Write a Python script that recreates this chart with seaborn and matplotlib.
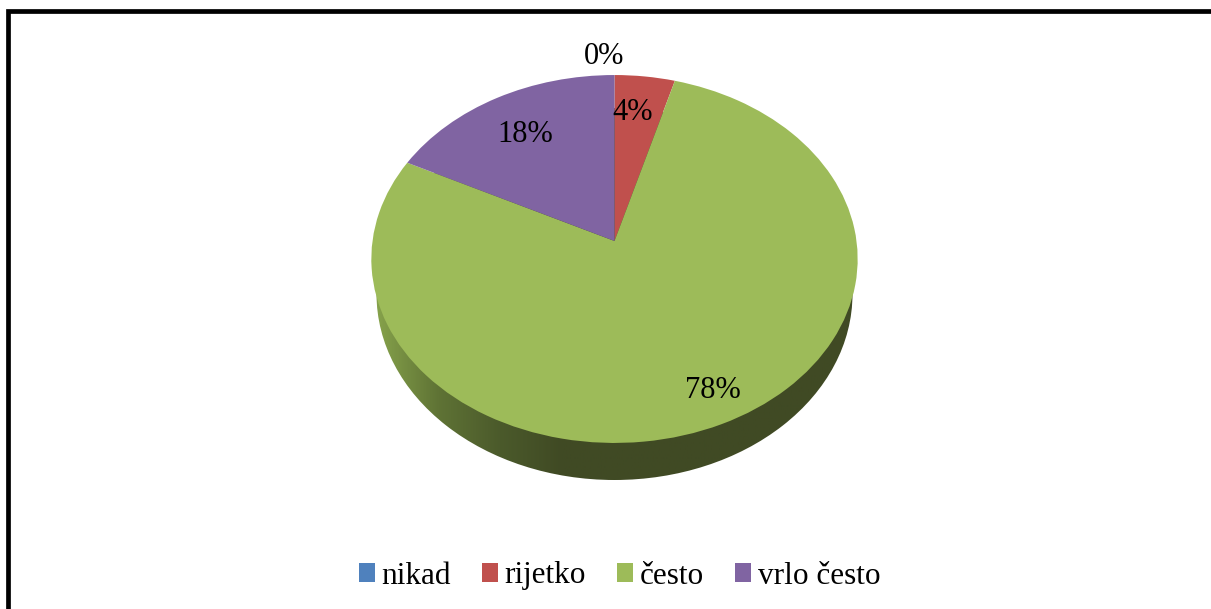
import numpy as np
import matplotlib
matplotlib.use("Agg")
import matplotlib.pyplot as plt
from matplotlib.lines import Line2D
from matplotlib.patches import Ellipse, Patch
from matplotlib.transforms import Transform
import seaborn as sns

categories = ["nikad", "rijetko", "često", "vrlo često"]
values = [0.0, 4.4, 78.0, 17.6]
colors = ["#4F81BD", "#C0504D", "#9DBB59", "#8064A2"]

W, H = 1211, 609
sns.set_theme(style="white")
plt.rcParams["font.family"] = ["Liberation Serif", "DejaVu Serif"]


class Perspective(Transform):
    """Tilts the unit pie: the far half looks shorter than the near half."""
    input_dims = output_dims = 2

    def __init__(self, cx, cy, bx, by, k):
        super().__init__()
        self.cx, self.cy, self.bx, self.by, self.k = cx, cy, bx, by, k

    def transform_non_affine(self, xy):
        xy = np.asarray(xy, dtype=float)
        w = 1 + self.k * xy[:, 1]
        return np.column_stack([self.cx + self.bx * xy[:, 0] / w,
                                self.cy - self.by * xy[:, 1] / w])


fig = plt.figure(figsize=(W / 100, H / 100), dpi=100, facecolor="white")
ax = fig.add_axes([0, 0, 1, 1])

palette = sns.color_palette(colors)
wedges, _, pct = ax.pie(values, colors=palette, startangle=90, counterclock=False,
                        autopct="%.0f%%", wedgeprops={"linewidth": 0},
                        textprops={"fontsize": 22, "color": "black"})

ax.set_aspect("auto")
ax.set_frame_on(False)
ax.set_xlim(0, W)
ax.set_ylim(H, 0)
ax.set_xticks([])
ax.set_yticks([])

tilt = Perspective(614.5, 241, 242, 182.2, 0.0978) + ax.transData
for wedge in wedges:
    wedge.set_transform(tilt)
    wedge.set_zorder(2)

# Pie wall: dark olive shading, lighter toward the left
wall = Ellipse((614.5, 294), 476, 372, facecolor="none", edgecolor="none")
ax.add_patch(wall)
cmap = sns.blend_palette(["#86A24B", "#5F7335", "#4B5A2B", "#404A24"], as_cmap=True)
shade = np.clip(np.linspace(0, 2.6, 512), 0, 1)[None, :]
img = ax.imshow(shade, cmap=cmap, extent=(376, 860, 490, 100), aspect="auto",
                vmin=0, vmax=1, zorder=1, interpolation="bilinear")
img.set_clip_path(wall)
ax.set_xlim(0, W)
ax.set_ylim(H, 0)

label_pos = [(604, 56), (633, 113), (713, 391), (525, 135)]
for text, pos in zip(pct, label_pos):
    text.set_position(pos)
    text.set_zorder(4)

# Chart frame: left and top edges are what shows in the crop
ax.add_line(Line2D([8, 8, W], [H, 11, 11], color="black", lw=3.4,
                   solid_joinstyle="miter", zorder=5))

handles = [Patch(facecolor=c, edgecolor="none", label=n) for c, n in zip(palette, categories)]
ax.legend(handles=handles, ncol=4, loc="center", bbox_to_anchor=(619.5, 576),
          bbox_transform=ax.transData, frameon=False, fontsize=22.5,
          labelcolor="black", handlelength=0.5, handleheight=0.52, handletextpad=0.22,
          columnspacing=1.0, borderpad=0, borderaxespad=0, labelspacing=0)

fig.savefig("out.png", dpi=100, facecolor="white")
